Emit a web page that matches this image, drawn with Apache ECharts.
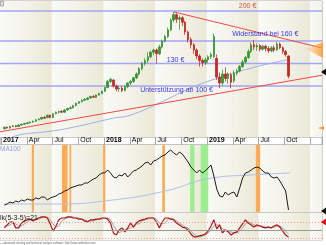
<!DOCTYPE html>
<html><head><meta charset="utf-8">
<script src="https://cdn.jsdelivr.net/npm/echarts/dist/echarts.min.js"></script>
<style>html,body{margin:0;padding:0;background:#fff}#c{width:326px;height:245px}</style>
</head><body><div id="c"></div>
<script>
// ---- data (x in months since Jan 2017, bars every 10 days) ----
const quarterLabels = ['2017','Apr','Jul','Oct','2018','Apr','Jul','Oct','2019','Apr','Jul','Oct',''];
const firstBarMonth = 0.5;
const barSpacingMonths = 1 / 3;

const opens  = [43,45,44,46,47,46,48,49,50,51, 52,53,55,56,58,58,61,58,63,65, 66,65,68,70,71,74,77,79,81,82,
                84,86,85,88,90,93,98,106,108,100, 96,97,94,99,104,106,111,116,123,130, 134,139,145,148,143,152,160,166,175,188,
                195,189,191,185,172,162,155,148,140,134, 131,135,139,139,137,112,104,116,110,115, 107,117,120,126,132,138,146,155,152,154,
                149,153,150,147,151,148,156,151,146,140];
const closes = [45,44,46,47,46,48,49,50,51,52, 53,55,56,58,57,61,58,63,65,66, 65,68,70,71,74,77,79,81,82,84,
                86,85,88,90,93,98,106,109,100,96, 97,94,99,104,106,111,116,123,130,134, 139,145,148,143,152,160,166,175,188,195,
                189,191,185,172,162,155,148,140,134,131, 135,139,142,166,112,104,116,110,116,105, 117,120,126,132,138,146,155,152,154,149,
                153,150,147,151,148,156,151,146,142,113];
const lows   = [42,43,43,45,45,45,47,48,49,50, 51,52,54,55,56,57,57,57,62,63, 64,64,67,69,70,73,76,78,80,81,
                83,84,84,87,89,92,97,104,98,93, 92,92,93,97,101,104,109,114,121,127, 131,137,141,130,141,150,158,164,173,185,
                184,175,180,168,158,150,143,136,126,126, 128,131,136,137,108,97,100,106,103,97, 104,114,118,124,130,136,144,148,147,146,
                147,146,144,145,145,147,149,143,139,110];
const highs  = [46,46,47,48,48,49,50,51,52,53, 54,56,57,59,60,62,62,64,66,67, 68,69,71,73,75,78,80,82,84,85,
                87,88,89,91,94,99,108,111,109,102, 100,100,101,105,108,112,118,125,132,137, 145,147,150,150,155,162,168,178,190,199,
                197,194,193,187,174,165,157,150,142,137, 138,141,145,170,142,118,122,125,118,117, 121,123,128,135,140,149,158,161,157,156,
                155,155,153,153,154,159,158,153,148,141];

const maMonths = [1.4, 2.8, 5.4, 8.5, 13.1, 15.1, 18.8, 21.7, 24.6, 29.2, 33.4];
const maPrices = [32, 36, 39, 45, 57, 61, 79, 95, 108, 124, 135];

const resistanceMonths = [20.2, 37.4];
const resistancePrices = [198.7, 150.7];
const supportMonths = [0, 37.4];
const supportPrices = [38.9, 114.4];

const levelPrices = [200, 160, 130, 100];
const annotationTexts  = ['200 €', 'Widerstand bei 160 €', '130 €', 'Unterstützung ab 100 €'];
const annotationMonths = [28.74, 30.8, 20.38, 20.5];
const annotationPrices = [206.7, 168.7, 134.7, 94.7];

const strengthValues = [7,8,10,9,11,10,12,11,13,12, 12,14,13,15,15,12,14,15,16,18, 19,21,22,24,25,26,27,27,29,29,
                        31,33,34,37,39,39,42,39,35,34, 37,36,39,35,38,41,42,44,46,49, 50,47,51,52,54,56,57,60,62,59,
                        57,60,58,54,50,45,42,39,42,39, 41,44,47,36,23,16,15,20,17,19, 20,15,24,34,39,40,42,44,45,44,
                        41,39,39,35,34,35,31,26,21,2];
const ma100Months = [0.5, 6.6, 13.1, 19.2, 24.6, 29.1, 33.7];
const ma100Values = [8, 8, 12, 21, 34, 37, 39];

const sellStart = [3.69, 7.19, 8.07, 11.97, 18.84, 29.71];
const sellEnd   = [3.95, 7.84, 8.27, 12.23, 19.15, 30.21];
const buyStart  = [22.08, 23.30];
const buyEnd    = [22.58, 24.18];

const stochK = [58,69,80,80,58,58,76,84,88,91, 84,91,95,99,99,95,73,46,65,88, 95,95,99,99,95,95,91,91,84,80,
                88,88,91,91,95,95,91,76,39,31, 50,58,43,58,76,61,76,84,88,91, 95,95,95,80,58,80,95,95,91,88,
                76,69,61,58,50,35,24,24,28,31, 35,46,65,88,54,69,39,50,43,31, 39,43,58,73,88,76,69,61,69,65,
                61,58,61,58,65,69,61,46,31,24];
const stochD = [65,65,69,76,73,65,65,73,80,88, 88,88,91,95,99,99,88,73,61,65, 84,91,95,99,99,95,95,91,88,84,
                84,84,88,91,91,95,95,88,69,50, 39,46,50,54,58,65,73,73,84,88, 91,95,95,91,76,73,76,91,95,91,
                84,76,69,61,58,46,35,28,24,28, 31,39,50,65,69,69,54,50,43,43, 39,39,46,58,73,80,76,69,65,65,
                65,61,61,58,61,65,65,58,46,35];
const stochLevels = [80, 50, 20];

// ---- chart ----
const xMax = 37.4;
const FONT = 'Liberation Sans, Arial, sans-serif';
const barMonth = i => firstBarMonth + i * barSpacingMonths;
const candles = opens.map((o, i) => [barMonth(i), o, closes[i], lows[i], highs[i]]);

function bandGradient(dark) {
  return {type:'linear', x:0, y:0, x2:1, y2:0, colorStops: dark
    ? [{offset:0,color:'#f4f3e8'},{offset:1,color:'#eae8d5'}]
    : [{offset:0,color:'#fafaf6'},{offset:1,color:'#f3f3ea'}]};
}
const bandAreas = quarterLabels.map((_, q) => [
  {xAxis: 3*q, itemStyle:{color: bandGradient(q % 2 === 1)}},
  {xAxis: Math.min(3*q + 3, xMax)}
]);
const signalAreas = sellStart.map((s, i) => [{xAxis: s, itemStyle:{color:'#ffaa55'}}, {xAxis: sellEnd[i]}])
  .concat(buyStart.map((s, i) => [{xAxis: s, itemStyle:{color:'#9cee90'}}, {xAxis: buyEnd[i]}]));

const GL = -4.5, GW = 326.6;
const grids = [
  {left: GL, width: GW, top: 1, height: 136, show: true, backgroundColor:'#f8f8f2', borderColor:'#a8a8a8', borderWidth:1},
  {left: GL, width: GW, top: 137, height: 8, show: true, backgroundColor:'#ffffff', borderColor:'#9a9a9a', borderWidth:1},
  {left: GL, width: GW, top: 145, height: 67, show: true, backgroundColor:'#f8f8f2', borderColor:'#b8b8b8', borderWidth:1},
  {left: GL, width: GW, top: 213, height: 27, show: true, backgroundColor:'#f8f8f2', borderColor:'#b8b8b8', borderWidth:1}
];
const HIDDEN_LINE = {show:false, onZero:false, lineStyle:{color:'rgba(0,0,0,0)'}};
function plainX(g) {
  return {type:'value', gridIndex:g, min:0, max:xMax, interval:3,
    axisLine:HIDDEN_LINE, axisTick:{show:false}, axisLabel:{show:false},
    splitLine:{show:true, lineStyle:{color:'#c6c6bd', width:1, type:[1,2]}}};
}
const xAxes = [plainX(0),
  {type:'value', gridIndex:1, min:0, max:xMax, interval:3, position:'bottom',
   axisLine:HIDDEN_LINE,
   axisTick:{show:true, inside:true, length:8, lineStyle:{color:'#aaaaaa'}},
   splitLine:{show:false},
   axisLabel:{show:true, inside:true, margin:1, align:'left', verticalAlign:'bottom', padding:[0,0,0,2],
     hideOverlap:false, showMinLabel:true, fontSize:7, color:'#000', fontFamily:FONT,
     formatter: v => { const t = quarterLabels[Math.round(v/3)] || ''; return /^\d/.test(t) ? '{y|' + t + '}' : t; },
     rich:{y:{fontWeight:'bold', fontSize:7, color:'#000', fontFamily:FONT}}}},
  plainX(2), plainX(3)];
function hiddenY(g, mn, mx) {
  return {type:'value', gridIndex:g, min:mn, max:mx, axisLine:HIDDEN_LINE, axisTick:{show:false},
    axisLabel:{show:false}, splitLine:{show:false}};
}
const yAxes = [hiddenY(0, 32, 213.33), hiddenY(1, 0, 1), hiddenY(2, 0, 67), hiddenY(3, 12.5, 113.75)];

const levelSeries = levelPrices.map(p => ({
  type:'line', xAxisIndex:0, yAxisIndex:0, data:[[0, p], [xMax, p]], symbol:'none', silent:true, z:3,
  lineStyle:{color:'#a3a5f5', width:1.5}
}));

const series = [
  {type:'line', xAxisIndex:0, yAxisIndex:0, data:[[0,100]], symbol:'none', lineStyle:{opacity:0}, silent:true, z:0,
   markArea:{silent:true, data:bandAreas}},
  ...levelSeries,
  {type:'line', xAxisIndex:0, yAxisIndex:0, data: maMonths.map((m,i)=>[m, maPrices[i]]), smooth:true,
   symbol:'none', lineStyle:{color:'#9fb0e2', width:1}, z:3},
  {type:'line', xAxisIndex:0, yAxisIndex:0, data: supportMonths.map((m,i)=>[m, supportPrices[i]]),
   symbol:'none', lineStyle:{color:'#f04848', width:1}, z:3},
  {type:'line', xAxisIndex:0, yAxisIndex:0, data: resistanceMonths.map((m,i)=>[m, resistancePrices[i]]),
   symbol:'none', lineStyle:{color:'#f04848', width:1}, z:3},
  {type:'candlestick', xAxisIndex:0, yAxisIndex:0, data: candles, barWidth:2, z:4,
   itemStyle:{color:'#2f9e2f', color0:'#d62222', borderColor:'#2a8a2a', borderColor0:'#b81c1c', borderWidth:0.7}},
  {type:'line', xAxisIndex:0, yAxisIndex:0, data:[[0,100]], symbol:'none', lineStyle:{opacity:0}, silent:true, z:21,
   markPoint:{silent:true, symbol:'rect', symbolSize:0,
     label:{show:true, position:'inside', fontSize:7, fontFamily:FONT, formatter:'{b}'},
     data: annotationTexts.map((t,i)=>({name:t, coord:[annotationMonths[i], annotationPrices[i]],
       label:{color: i === 0 ? '#e85050' : '#3c3ce0'}}))}},
  // indicator panel
  {type:'line', xAxisIndex:2, yAxisIndex:2, data:[[0,0]], symbol:'none', lineStyle:{opacity:0}, silent:true, z:0,
   markArea:{silent:true, data: bandAreas.concat(signalAreas)}},
  {type:'line', xAxisIndex:2, yAxisIndex:2, data: ma100Months.map((m,i)=>[m, ma100Values[i]]), smooth:true,
   symbol:'none', lineStyle:{color:'#b0c0e6', width:1}, z:2},
  {type:'line', xAxisIndex:2, yAxisIndex:2, data: strengthValues.map((v,i)=>[barMonth(i), v]),
   symbol:'none', lineStyle:{color:'#1a1a1a', width:1}, z:3},
  // stochastic panel
  {type:'line', xAxisIndex:3, yAxisIndex:3, data:[[0,50]], symbol:'none', lineStyle:{opacity:0}, silent:true, z:0,
   markArea:{silent:true, data:bandAreas},
   markLine:{silent:true, symbol:['none','none'], label:{show:false},
     data: stochLevels.map(v => ({yAxis:v, lineStyle: v === 50 ? {color:'#9a9a9a', width:1, type:'solid'} : {color:'#f29a9a', width:1, type:[1,2]}}))}},
  {type:'line', xAxisIndex:3, yAxisIndex:3, data: stochD.map((v,i)=>[barMonth(i), v]),
   symbol:'none', lineStyle:{color:'#9a9a9a', width:0.9}, z:2},
  {type:'line', xAxisIndex:3, yAxisIndex:3, data: stochK.map((v,i)=>[barMonth(i), v]),
   symbol:'none', lineStyle:{color:'#b01515', width:1.2}, z:3}
];

const graphic = [
  {type:'text', left:0, top:145.5, style:{text:'MA100', fontSize:6.5, fontFamily:FONT, fill:'#8fa2e0'}, z:30},
  {type:'text', left:0, top:215, style:{text:'lk(5-3-5)=21', fontSize:7, fontFamily:FONT, fill:'#222'}, z:30},
  {type:'text', left:0, top:241.5, style:{text:'\u25aa - advanced charting and technical analysis software. http://www.amibroker.com', fontSize:2.7, fontFamily:FONT, fill:'#666'}, z:30},
  {type:'polygon', shape:{points:[[306,49],[323,42],[323,58]]}, z:30,
   style:{fill:{type:'linear', x:0, y:0, x2:1, y2:0, colorStops:[{offset:0,color:'rgba(255,160,60,0.15)'},{offset:1,color:'rgba(255,150,40,0.85)'}]}}},
  {type:'polygon', shape:{points:[[318,128],[324,126],[324,130]]}, style:{fill:'#ff9a3a'}, z:30},
  {type:'polygon', shape:{points:[[321,72],[326,68.5],[326,75.5]]}, style:{fill:'#111'}, z:30},
  {type:'polygon', shape:{points:[[321,211],[326,207.5],[326,214.5]]}, style:{fill:'#111'}, z:30},
  {type:'polygon', shape:{points:[[321,222],[326,218.5],[326,225.5]]}, style:{fill:'#e01010'}, z:30},
  {type:'rect', shape:{x:0.5, y:1, width:3, height:5}, style:{fill:'#ddd', stroke:'#888', lineWidth:0.6}, z:30}
];

const chart = echarts.init(document.getElementById('c'), null, {renderer:'canvas'});
chart.setOption({animation:false, backgroundColor:'#ffffff', grid:grids, xAxis:xAxes, yAxis:yAxes, series:series, graphic:graphic});
</script></body></html>
